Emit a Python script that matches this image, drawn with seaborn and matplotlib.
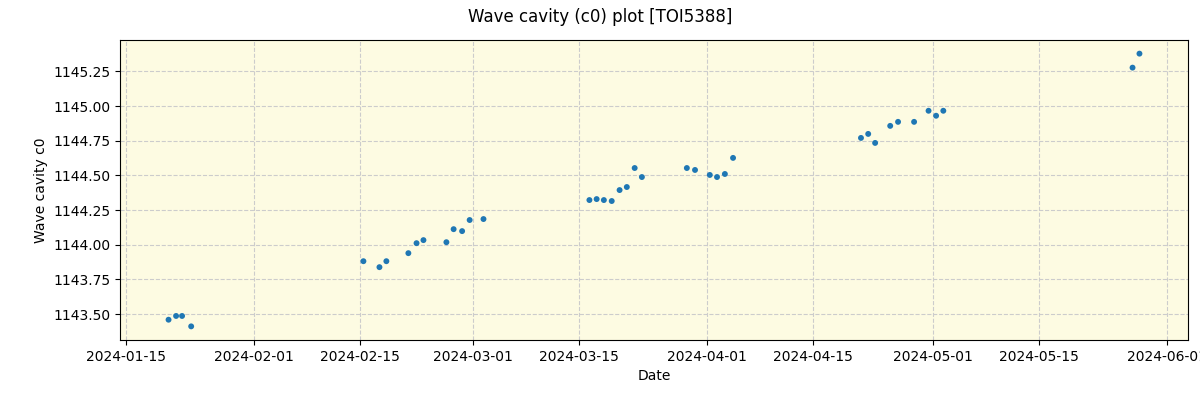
import pandas as pd
import matplotlib
matplotlib.use("Agg")
import matplotlib.pyplot as plt
import matplotlib.dates as mdates
import seaborn as sns

# === DATA ===
dates = [
    "2024-01-20 15:00", "2024-01-21 15:00", "2024-01-22 10:00", "2024-01-23 15:00",
    "2024-02-15 11:00", "2024-02-17 14:00", "2024-02-18 12:00", "2024-02-21 10:00",
    "2024-02-22 12:00", "2024-02-23 10:00", "2024-02-26 11:00", "2024-02-27 10:00",
    "2024-02-28 13:00", "2024-02-29 13:00", "2024-03-02 09:00",
    "2024-03-16 10:00", "2024-03-17 09:00", "2024-03-18 08:00", "2024-03-19 09:00",
    "2024-03-20 10:00", "2024-03-21 09:00", "2024-03-22 10:00", "2024-03-23 09:00",
    "2024-03-29 08:00", "2024-03-30 10:00", "2024-04-01 09:00", "2024-04-02 08:00",
    "2024-04-03 09:00", "2024-04-04 11:00",
    "2024-04-21 10:00", "2024-04-22 09:00", "2024-04-23 07:00", "2024-04-25 07:00",
    "2024-04-26 08:00", "2024-04-28 11:00", "2024-04-30 09:00", "2024-05-01 09:00",
    "2024-05-02 08:00",
    "2024-05-27 10:00", "2024-05-28 08:00",
]
c0 = [
    1143.459, 1143.486, 1143.486, 1143.411,
    1143.881, 1143.838, 1143.881, 1143.939,
    1144.011, 1144.033, 1144.018, 1144.112,
    1144.098, 1144.178, 1144.185,
    1144.322, 1144.329, 1144.322, 1144.315,
    1144.394, 1144.416, 1144.553, 1144.488,
    1144.553, 1144.539, 1144.503, 1144.488,
    1144.510, 1144.626,
    1144.770, 1144.799, 1144.734, 1144.857,
    1144.886, 1144.886, 1144.966, 1144.930,
    1144.966,
    1145.277, 1145.378,
]

df = pd.DataFrame({"Date": pd.to_datetime(dates), "c0": c0})

fig, ax = plt.subplots(figsize=(12, 4), dpi=100)
fig.suptitle("Wave cavity (c0) plot [TOI5388]", fontsize=12)

sns.scatterplot(data=df, x="Date", y="c0", ax=ax, s=18, color="#1f77b4",
                edgecolor="none", zorder=3)

ax.set_facecolor("#fdfbe2")
ax.grid(True, linestyle="--", color="#cccccc", linewidth=0.8)
ax.set_axisbelow(True)
ax.xaxis.set_major_locator(mdates.DayLocator(bymonthday=[1, 15]))
ax.xaxis.set_major_formatter(mdates.DateFormatter("%Y-%m-%d"))
ax.set_xlabel("Date")
ax.set_ylabel("Wave cavity c0")

fig.subplots_adjust(left=0.1, right=0.99, top=0.9, bottom=0.15)
fig.savefig("out.png")
